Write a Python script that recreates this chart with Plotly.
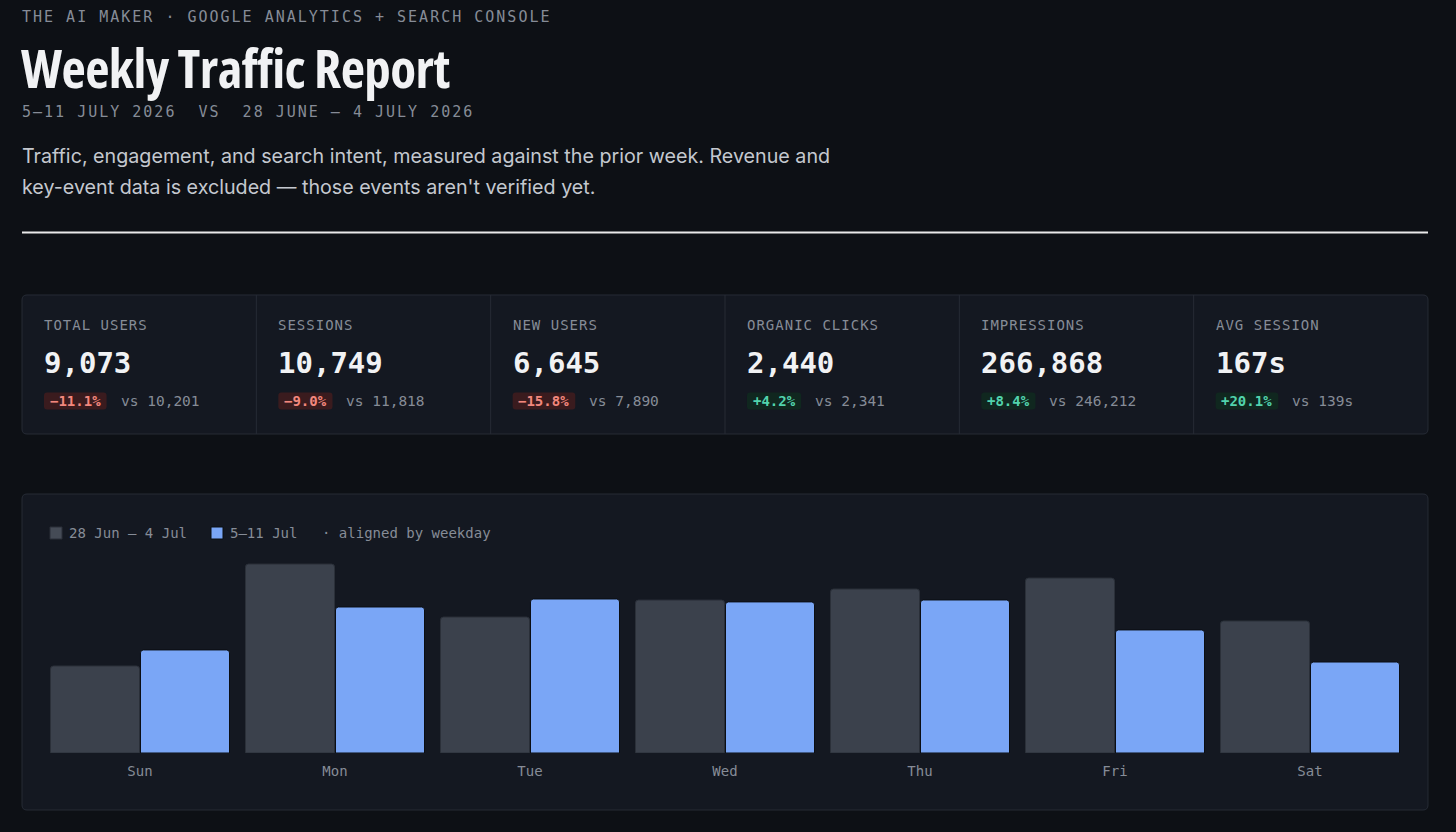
import plotly.graph_objects as go

W, H = 1456, 832

# ---------------- data ----------------
weekdays = ["Sun", "Mon", "Tue", "Wed", "Thu", "Fri", "Sat"]
series_names = ["28 Jun – 4 Jul", "5–11 Jul"]
users_prev_week = [857, 1861, 1339, 1506, 1615, 1723, 1300]
users_this_week = [1015, 1438, 1517, 1488, 1507, 1212, 896]

kpi_labels = ["TOTAL USERS", "SESSIONS", "NEW USERS", "ORGANIC CLICKS", "IMPRESSIONS", "AVG SESSION"]
kpi_current = [9073, 10749, 6645, 2440, 266868, 167]
kpi_previous = [10201, 11818, 7890, 2341, 246212, 139]
kpi_units = ["", "", "", "", "", "s"]

eyebrow = "THE AI MAKER · GOOGLE ANALYTICS + SEARCH CONSOLE"
title = "Weekly Traffic Report"
period = "5–11 JULY 2026  VS  28 JUNE – 4 JULY 2026"
desc_lines = ["Traffic, engagement, and search intent, measured against the prior week. Revenue and",
              "key-event data is excluded — those events aren't verified yet."]
legend_note = "· aligned by weekday"

# ---------------- style ----------------
BG = "#0d1015"
CARD = "#141821"
BORDER = "#262b35"
PREV = "#3b414c"
CUR = "#7aa6f6"
MUTED = "#868c97"
TEXT = "#f1f2f4"
DESC = "#c4c8cf"
RED = "#f2877d"
RED_BG = "#3a1b1e"
GREEN = "#52d3ad"
GREEN_BG = "#10271f"
MONO = "DejaVu Sans Mono"
SANS = "Inter, Liberation Sans, Roboto"
COND = "Open Sans, Roboto"


def X(px):
    return px / W


def Y(py):
    return 1 - py / H


def rrect(x0, y0, x1, y1, r):
    pts = [
        ("M", [(x0 + r, y0)]), ("L", [(x1 - r, y0)]), ("Q", [(x1, y0), (x1, y0 + r)]),
        ("L", [(x1, y1 - r)]), ("Q", [(x1, y1), (x1 - r, y1)]), ("L", [(x0 + r, y1)]),
        ("Q", [(x0, y1), (x0, y1 - r)]), ("L", [(x0, y0 + r)]), ("Q", [(x0, y0), (x0 + r, y0)]),
    ]
    s = ""
    for cmd, ps in pts:
        s += cmd + " ".join(f"{X(a):.6f},{Y(b):.6f}" for a, b in ps) + " "
    return s + "Z"


shapes = []
ann = []


def text(x, y, s, size, color, family=MONO, weight=400, style=None, anchor="left"):
    if style is not None:
        s = f'<span style="{style}">{s}</span>'
    if anchor == "left":
        x -= 2
    ann.append(dict(x=X(x), y=Y(y), xref="paper", yref="paper", text=s, showarrow=False,
                    xanchor=anchor, yanchor="middle", align="left",
                    font=dict(family=family, size=size, color=color, weight=weight)))


# header
text(22, 17, eyebrow, 15, MUTED, style="letter-spacing:2px")
text(21, 67, title, 53, TEXT, family=COND, weight=700, style="letter-spacing:-0.55px;font-stretch:80%")
text(22, 112, period, 15, MUTED, style="letter-spacing:2px")
text(22, 156, desc_lines[0], 19.7, DESC, family=SANS)
text(22, 187, desc_lines[1], 19.7, DESC, family=SANS)
shapes.append(dict(type="line", xref="paper", yref="paper", x0=X(22), x1=X(1428), y0=Y(232.5), y1=Y(232.5),
                   line=dict(color="#e9e9ea", width=2)))

# KPI cards
kx0, ky0, kx1, ky1 = 22, 295, 1428, 434
shapes.append(dict(type="path", xref="paper", yref="paper", path=rrect(kx0, ky0, kx1, ky1, 5),
                   fillcolor=CARD, line=dict(color=BORDER, width=1), layer="below"))
cw = (kx1 - kx0) / len(kpi_labels)
for i, lab in enumerate(kpi_labels):
    cx = kx0 + i * cw
    if i > 0:
        shapes.append(dict(type="line", xref="paper", yref="paper", x0=X(cx), x1=X(cx), y0=Y(ky0), y1=Y(ky1),
                           line=dict(color=BORDER, width=1), layer="below"))
    text(cx + 22, 325, lab, 14, MUTED, style="letter-spacing:1px")
    text(cx + 22, 363, f"{kpi_current[i]:,}{kpi_units[i]}", 29, TEXT, weight=700)
    pct = (kpi_current[i] - kpi_previous[i]) / kpi_previous[i] * 100
    badge = ("+" if pct >= 0 else "−") + f"{abs(pct):.1f}%"
    bw = len(badge) * 8.43 + 12
    bx = cx + 22
    shapes.append(dict(type="path", xref="paper", yref="paper", path=rrect(bx, 392.5, bx + bw, 409.5, 3),
                       fillcolor=GREEN_BG if pct >= 0 else RED_BG, line=dict(width=0), layer="below"))
    text(bx + bw / 2, 401, badge, 14, GREEN if pct >= 0 else RED, weight=700, anchor="center")
    text(bx + bw + 14, 401, f"vs {kpi_previous[i]:,}{kpi_units[i]}", 14.5, MUTED)

# chart panel
shapes.append(dict(type="path", xref="paper", yref="paper", path=rrect(22, 494, 1428, 810, 5),
                   fillcolor=CARD, line=dict(color=BORDER, width=1), layer="below"))
# legend
shapes.append(dict(type="rect", xref="paper", yref="paper", x0=X(50), x1=X(62), y0=Y(527), y1=Y(539),
                   fillcolor="#454b56", line=dict(color="#2a2f38", width=1)))
text(69, 533, series_names[0], 14, MUTED)
shapes.append(dict(type="rect", xref="paper", yref="paper", x0=X(211), x1=X(223), y0=Y(527), y1=Y(539),
                   fillcolor=CUR, line=dict(color="#0b0e13", width=1)))
text(230, 533, series_names[1], 14, MUTED)
text(322, 533, legend_note, 14, MUTED)

fig = go.Figure()
fig.add_trace(go.Bar(x=weekdays, y=users_prev_week, name=series_names[0],
                     marker=dict(color=PREV, line=dict(color="#2b3039", width=1))))
fig.add_trace(go.Bar(x=weekdays, y=users_this_week, name=series_names[1],
                     marker=dict(color=CUR, line=dict(color="#0b0e13", width=1))))

fig.update_layout(
    width=W, height=H, margin=dict(l=0, r=0, t=0, b=0),
    paper_bgcolor=BG, plot_bgcolor="rgba(0,0,0,0)",
    showlegend=False, barmode="group", bargap=0.077, bargroupgap=0.011, barcornerradius=3,
    shapes=shapes, annotations=ann,
    xaxis=dict(domain=[X(42.5), X(1407.5)], showgrid=False, zeroline=False, showline=False,
               ticks="", ticklabelstandoff=8, tickfont=dict(family=MONO, size=14, color=MUTED),
               fixedrange=True),
    yaxis=dict(domain=[Y(753), Y(555)], range=[0, 1950], visible=False, fixedrange=True),
    hovermode=False,
)

fig.write_html("out.html")
